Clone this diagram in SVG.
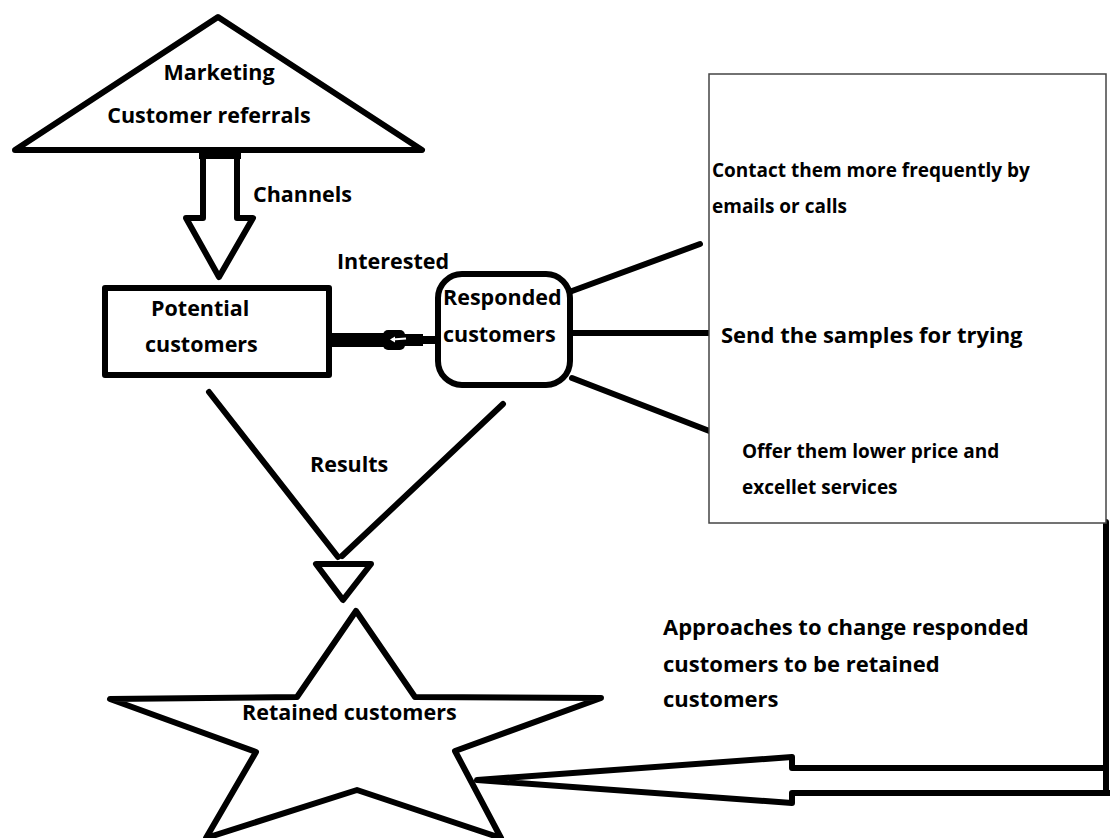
<svg xmlns="http://www.w3.org/2000/svg" width="1110" height="838" viewBox="0 0 1110 838">
  <style>
    .shape { fill: #fff; stroke: #000; stroke-width: 6; stroke-linejoin: round; stroke-linecap: round; }
    .line { fill: none; stroke: #000; stroke-width: 6; stroke-linecap: round; stroke-linejoin: round; }
    .lbl { font-family: "Open Sans", "Liberation Sans", sans-serif; font-weight: bold; fill: #000; }
    .big { font-size: 21.5px; }
    .wide { font-size: 22px; }
    .small { font-size: 19px; }
  </style>
  <rect width="1110" height="838" fill="#fff"/>

  <g id="connectors">
    <!-- Channels block arrow -->
    <path class="line" d="M203,154 L203,218 L186,218 L219,277 L253,218 L237,218 L237,154"/>
    <rect x="199" y="150" width="42" height="9" fill="#000"/>
    <!-- Responded -> Potential -->
    <rect x="330" y="333" width="56" height="14" fill="#000"/>
    <rect x="383" y="330" width="22" height="20" rx="5" fill="#000"/>
    <rect x="403" y="334" width="20" height="12" fill="#000"/>
    <rect x="421" y="336" width="16" height="8" fill="#000"/>
    <path d="M392,339.5 L406,338.5" stroke="#fff" stroke-width="2" fill="none"/>
    <path d="M390,339.5 L395,336.5 L395,342.5 Z" fill="#fff"/>
    <!-- Responded -> approaches -->
    <path class="line" d="M572,291 L700,244"/>
    <path class="line" d="M573,333 L712,333" stroke-linecap="butt"/>
    <path class="line" d="M572,378 L712,432"/>
    <!-- Results -->
    <path class="line" d="M209,392 L338,557"/>
    <path class="line" d="M503,404 L342,556"/>
    <polygon class="shape" points="316,564 371,564 343,600"/>
    <!-- Approaches back to retained customers -->
    <path class="line" d="M1106,522 L1106,793"/>
    <path class="line" d="M1110,793 L792,793 L792,803 L477,780 L792,757 L792,768 L1106,768" stroke-linecap="butt"/>
  </g>

  <g id="marketing">
    <polygon class="shape" points="218,17 422,150 15,150" stroke-width="7"/>
    <text class="lbl big" x="219" y="80" text-anchor="middle">Marketing</text>
    <text class="lbl big" x="209" y="123" text-anchor="middle">Customer referrals</text>
  </g>
  <text class="lbl big" x="253" y="202">Channels</text>
  <text class="lbl big" x="337" y="269">Interested</text>

  <g id="potential">
    <rect class="shape" x="105" y="288" width="224" height="87" stroke-linejoin="miter"/>
    <text class="lbl big" x="151" y="316">Potential</text>
    <text class="lbl big" x="145" y="352">customers</text>
  </g>

  <g id="responded">
    <rect class="shape" x="438" y="274" width="132" height="111" rx="24"/>
    <text class="lbl big" x="443" y="305">Responded</text>
    <text class="lbl big" x="443" y="342">customers</text>
  </g>

  <g id="approaches">
    <rect x="709" y="74" width="397" height="449" fill="#fff" stroke="#444" stroke-width="1.5"/>
    <text class="lbl small" x="712" y="177">Contact them more frequently by</text>
    <text class="lbl small" x="712" y="213">emails or calls</text>
    <text class="lbl wide" x="721" y="343">Send the samples for trying</text>
    <text class="lbl small" x="742" y="458">Offer them lower price and</text>
    <text class="lbl small" x="742" y="494">excellet services</text>
  </g>

  <text class="lbl big" x="310" y="472">Results</text>

  <g id="retained">
    <polygon class="shape" points="356,611 415,697 601,698 455,751 501,838 357,790 206,838 256,752 110,699 297,697"/>
    <text class="lbl big" x="242" y="720">Retained customers</text>
  </g>

  <g id="approach-label">
    <text class="lbl wide" x="663" y="635">Approaches to change responded</text>
    <text class="lbl wide" x="663" y="672">customers to be retained</text>
    <text class="lbl wide" x="663" y="707">customers</text>
  </g>
</svg>
